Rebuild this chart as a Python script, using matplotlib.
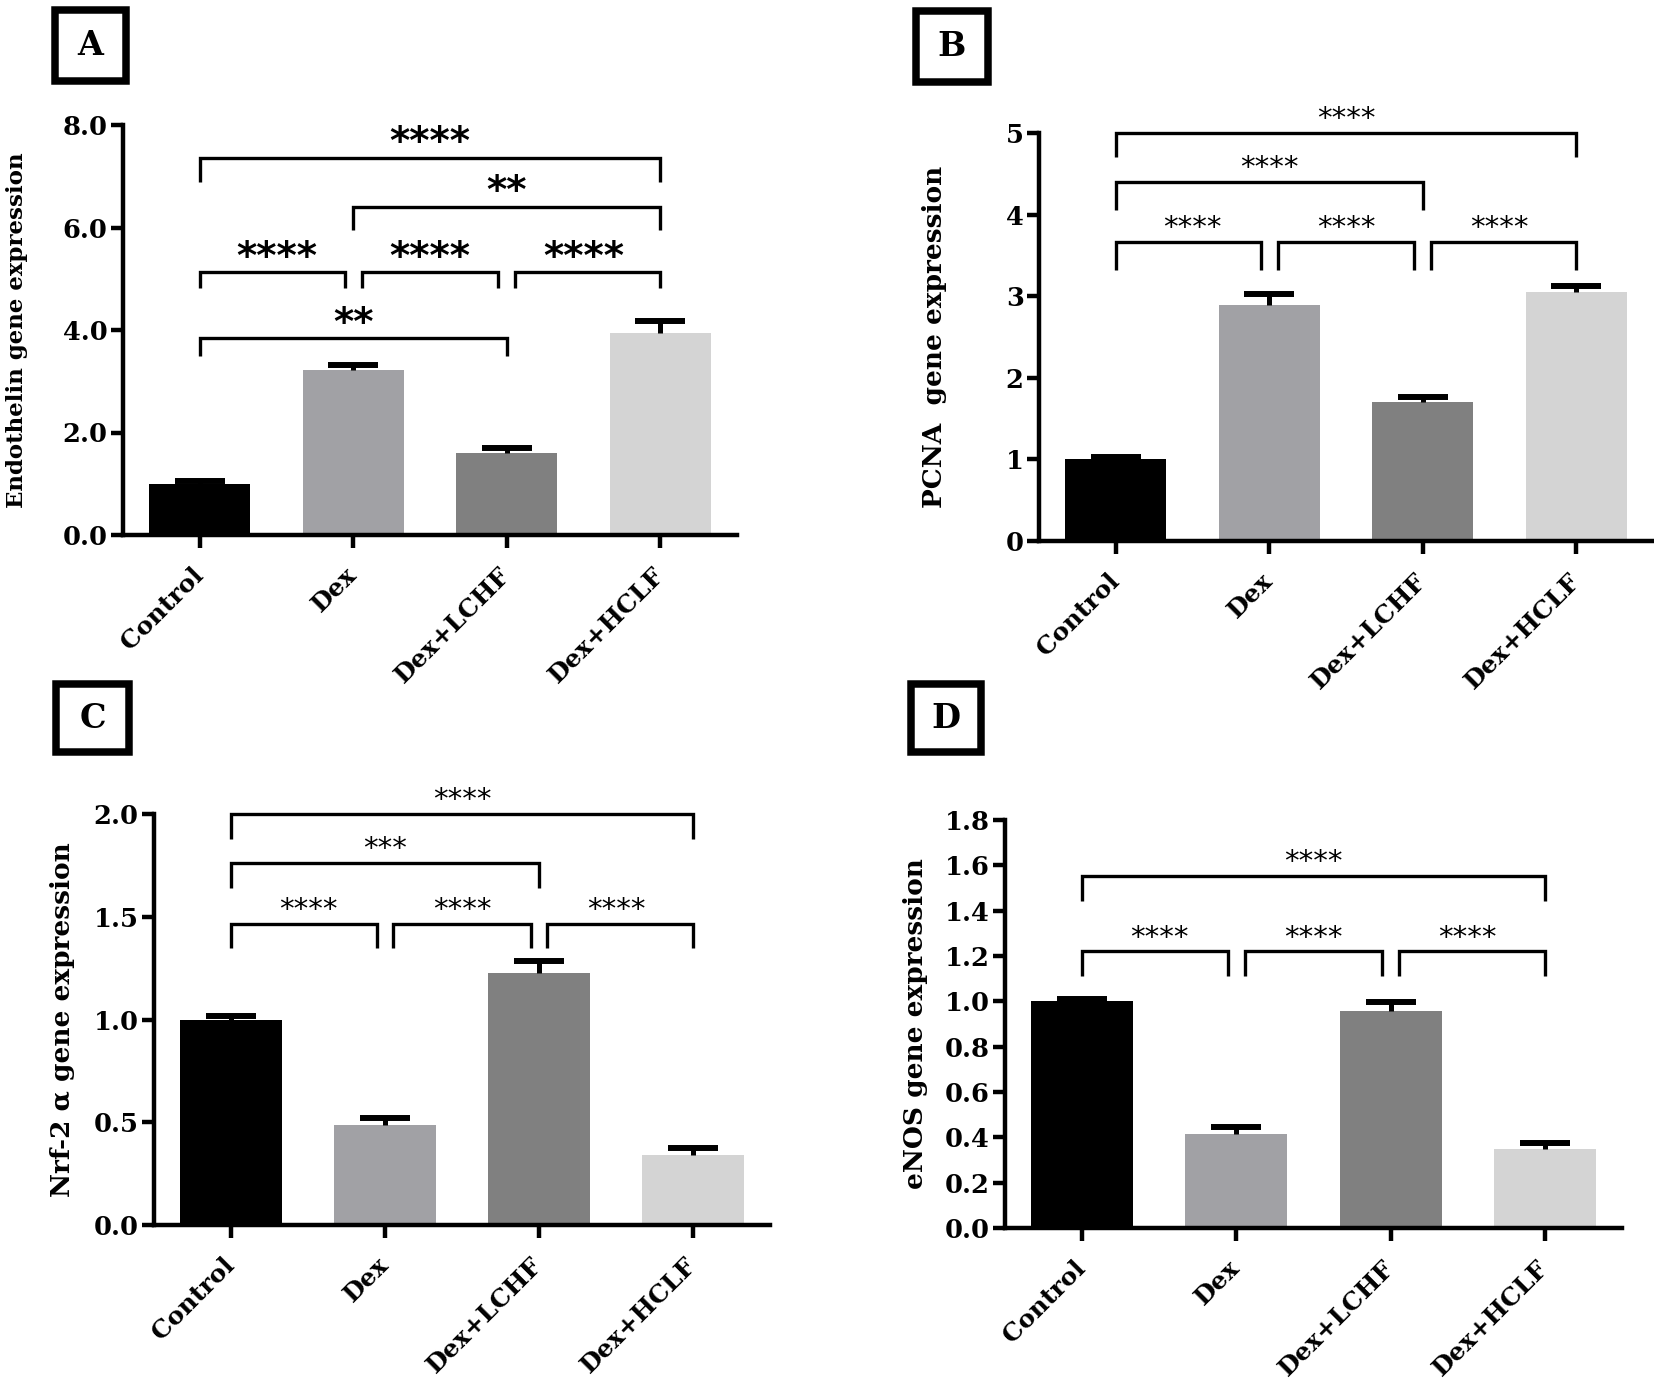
import matplotlib
matplotlib.use("Agg")
import matplotlib.pyplot as plt
from matplotlib.patches import Rectangle

# ---------------- data ----------------
groups = ["Control", "Dex", "Dex+LCHF", "Dex+HCLF"]
bar_colors = ["#000000", "#a1a1a5", "#808080", "#d4d4d4"]

endothelin_mean = [1.00, 3.21, 1.60, 3.95]
endothelin_err = [0.06, 0.11, 0.09, 0.22]
pcna_mean = [1.00, 2.89, 1.70, 3.05]
pcna_err = [0.03, 0.135, 0.06, 0.08]
nrf2_mean = [1.00, 0.487, 1.224, 0.339]
nrf2_err = [0.015, 0.035, 0.06, 0.035]
enos_mean = [1.00, 0.415, 0.957, 0.350]
enos_err = [0.012, 0.03, 0.04, 0.027]

# significance brackets: (group i, group j, bar level, tip level, label)
endothelin_brackets = [(0, 3, 7.36, 6.89, "****"), (1, 3, 6.40, 5.95, "**"),
                       (0, 1, 5.13, 4.82, "****"), (1, 2, 5.13, 4.82, "****"),
                       (2, 3, 5.13, 4.82, "****"), (0, 2, 3.84, 3.49, "**")]
pcna_brackets = [(0, 3, 5.00, 4.71, "****"), (0, 2, 4.40, 4.06, "****"),
                 (0, 1, 3.66, 3.32, "****"), (1, 2, 3.66, 3.32, "****"),
                 (2, 3, 3.66, 3.32, "****")]
nrf2_brackets = [(0, 3, 2.00, 1.88, "****"), (0, 2, 1.76, 1.64, "***"),
                 (0, 1, 1.465, 1.35, "****"), (1, 2, 1.465, 1.35, "****"),
                 (2, 3, 1.465, 1.35, "****")]
enos_brackets = [(0, 3, 1.553, 1.444, "****"),
                 (0, 1, 1.22, 1.11, "****"), (1, 2, 1.22, 1.11, "****"),
                 (2, 3, 1.22, 1.11, "****")]

endothelin_ticks = [0, 2, 4, 6, 8]
pcna_ticks = [0, 1, 2, 3, 4, 5]
nrf2_ticks = [0, 0.5, 1.0, 1.5, 2.0]
enos_ticks = [0, 0.2, 0.4, 0.6, 0.8, 1.0, 1.2, 1.4, 1.6, 1.8]

# ---------------- figure ----------------
W, H = 1654, 1379
DPI = 100
fig = plt.figure(figsize=(W / DPI, H / DPI), dpi=DPI)
SERIF = "DejaVu Serif"


def px_rect(left, right, top, bottom):
    return [left / W, 1 - bottom / H, (right - left) / W, (bottom - top) / H]


def panel_box(letter, left, right, top, bottom):
    lw_px = 7.5
    rect = Rectangle(((left + lw_px / 2) / W, 1 - (bottom - lw_px / 2) / H),
                     (right - left - lw_px) / W, (bottom - top - lw_px) / H,
                     transform=fig.transFigure, fill=False, edgecolor="black",
                     linewidth=lw_px * 72 / DPI, joinstyle="miter")
    fig.patches.append(rect)
    fig.text((left + right) / 2 / W, 1 - (top + bottom) / 2 / H, letter,
             ha="center", va="center", fontsize=24, fontweight="bold",
             family=SERIF)


def draw_panel(rect, means, errs, ticks, ticklabels, ylabel, ylabel_size,
               label_x, brackets, star_size, star_weight, star_offset):
    ax = fig.add_axes(rect)
    x = list(range(len(groups)))
    ax.bar(x, means, width=0.66, color=bar_colors, zorder=2)
    eb = ax.errorbar(x, means, yerr=[[0] * len(errs), errs], fmt="none",
                     ecolor="black", elinewidth=3.6, capsize=18, capthick=4.3,
                     zorder=3)
    # keep only the upper caps
    caps = eb[1]
    if len(caps) == 2:
        caps[0].set_visible(False)
    ax.set_xlim(-0.5, 3.5)
    ax.set_ylim(0, ticks[-1])
    ax.set_yticks(ticks)
    ax.set_yticklabels(ticklabels, fontsize=18.5, fontweight="bold", family=SERIF)
    ax.set_xticks(x)
    ax.set_xticklabels(groups, fontsize=18, fontweight="bold", family=SERIF,
                       rotation=45, ha="right", va="center",
                       rotation_mode="anchor")
    for s in ["top", "right"]:
        ax.spines[s].set_visible(False)
    for s in ["left", "bottom"]:
        ax.spines[s].set_linewidth(3.2)
    ax.tick_params(axis="both", length=9, width=3.2, color="black")
    ax.tick_params(axis="y", pad=2)
    ax.tick_params(axis="x", pad=17)
    ax.set_ylabel(ylabel, fontsize=ylabel_size, fontweight="bold", family=SERIF)
    ax.yaxis.set_label_coords(label_x, 0.5)

    gap = 0.055
    for (i, j, y, tip, lab) in brackets:
        xl, xr = float(i), float(j)
        for (i2, j2, y2, _, _) in brackets:
            if y2 == y and j2 == i:
                xl += gap
            if y2 == y and i2 == j:
                xr -= gap
        ax.plot([xl, xl, xr, xr], [tip, y, y, tip], color="black", lw=2.4,
                clip_on=False, solid_joinstyle="miter", solid_capstyle="butt",
                zorder=4)
        ax.annotate(lab, xy=((i + j) / 2, y), xytext=(0, star_offset),
                    textcoords="offset points", ha="center", va="center",
                    fontsize=star_size, fontweight=star_weight,
                    family="DejaVu Sans", annotation_clip=False)
    return ax


def fmt1(v):
    return "%.1f" % v


draw_panel(px_rect(123, 737, 125, 535), endothelin_mean, endothelin_err,
           endothelin_ticks, [fmt1(t) for t in endothelin_ticks],
           "Endothelin gene expression", 16.5, -0.155, endothelin_brackets,
           28, "bold", 10.5)
draw_panel(px_rect(1039, 1653, 133, 541), pcna_mean, pcna_err,
           pcna_ticks, [str(t) for t in pcna_ticks],
           "PCNA  gene expression", 19, -0.150, pcna_brackets,
           21, "normal", 10)
draw_panel(px_rect(154, 770, 814, 1225), nrf2_mean, nrf2_err,
           nrf2_ticks, [fmt1(t) for t in nrf2_ticks],
           "Nrf-2 \u03b1 gene expression", 19, -0.128, nrf2_brackets,
           21, "normal", 10)
draw_panel(px_rect(1005, 1622, 820, 1228), enos_mean, enos_err,
           enos_ticks, [fmt1(t) for t in enos_ticks],
           "eNOS gene expression", 19, -0.125, enos_brackets,
           21, "normal", 10)

panel_box("A", 51, 130, 6, 85)
panel_box("B", 912, 992, 7, 86)
panel_box("C", 52, 133, 680, 756)
panel_box("D", 907, 985, 680, 756)

fig.savefig("out.png", dpi=DPI)
